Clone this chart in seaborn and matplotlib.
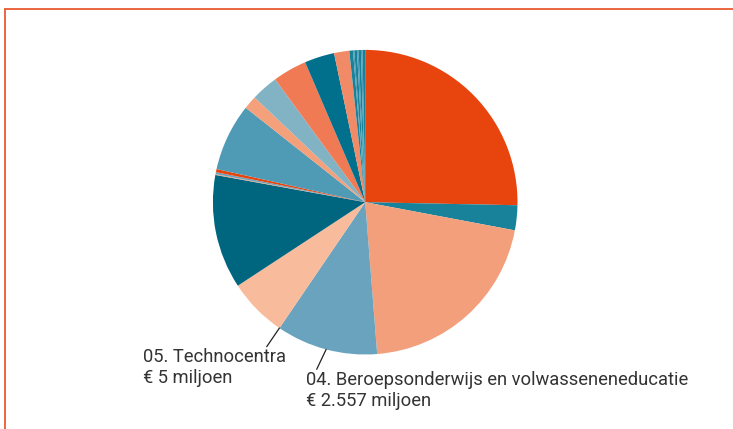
import matplotlib
matplotlib.use("Agg")
import matplotlib.pyplot as plt
import seaborn as sns
import numpy as np
from matplotlib.lines import Line2D

# begroting per artikel, in miljoenen euro (clockwise from 12 o'clock)
bedragen = [6013, 628, 4936, 2557, 5, 1480, 2874,
            20, 50, 80, 1698, 337, 681, 859, 753, 383,
            92, 33, 66, 40, 59, 40, 66]
kleuren = ["#e8440e", "#17829a", "#f49f7b", "#6aa3bd", "#ef7a54", "#f8bb9b", "#00657f",
           "#f4a07b", "#6aa3bd", "#e8440e", "#4f9ab5", "#f4a07b", "#82b3c4", "#ef7a54",
           "#00708c", "#f08a67",
           "#17829a", "#4f9ab5", "#17829a", "#4f9ab5", "#17829a", "#4f9ab5", "#17829a"]

label_idx = [4, 3]
label_titels = ["05. Technocentra", "04. Beroepsonderwijs en volwasseneneducatie"]
label_bedragen = ["€ 5 miljoen", "€ 2.557 miljoen"]

sns.set_theme(style="white")
plt.rcParams["font.family"] = ["Roboto", "DejaVu Sans"]

W, H = 733, 429
fig = plt.figure(figsize=(W / 100, H / 100), dpi=100)
fig.patch.set_facecolor("white")

cx, cy, r = 365.2, 202.2, 152.3
ax = fig.add_axes([(cx - r) / W, (H - cy - r) / H, 2 * r / W, 2 * r / H])
wedges, _ = ax.pie(bedragen, colors=kleuren, startangle=90, counterclock=False,
                   wedgeprops=dict(linewidth=0))
ax.set_xlim(-1, 1)
ax.set_ylim(-1, 1)
ax.set_aspect("equal")
ax.axis("off")

# label text positions (pixels, from top-left) and leader line ends
tekst_pos = [(142.7, 362.3), (306.5, 385.0)]
lijn_eind = [(266.7, 346.7), (316.7, 369.3)]
tekstkleur = "#333333"

for i, titel, bedrag, (tx, ty), (lx, ly) in zip(label_idx, label_titels, label_bedragen,
                                                 tekst_pos, lijn_eind):
    w = wedges[i]
    theta = np.deg2rad((w.theta1 + w.theta2) / 2)
    ax.annotate("", xy=(np.cos(theta), np.sin(theta)), xycoords="data",
                xytext=(lx, H - ly), textcoords="figure pixels",
                arrowprops=dict(arrowstyle="-", color="#222222", lw=0.9,
                                shrinkA=0, shrinkB=0))
    fig.text(tx / W, 1 - ty / H, titel, fontsize=13.2, color=tekstkleur,
             ha="left", va="baseline")
    fig.text(tx / W, 1 - (ty + 20.8) / H, bedrag, fontsize=13.2, color=tekstkleur,
             ha="left", va="baseline")

# orange frame, top and left only
rand = "#e95a30"
fig.add_artist(Line2D([5 / W, 1], [1 - 9 / H, 1 - 9 / H], color=rand, lw=1.3,
                      transform=fig.transFigure))
fig.add_artist(Line2D([5 / W, 5 / W], [0, 1 - 9 / H], color=rand, lw=1.3,
                      transform=fig.transFigure))

fig.savefig("out.png", dpi=100, facecolor="white")
